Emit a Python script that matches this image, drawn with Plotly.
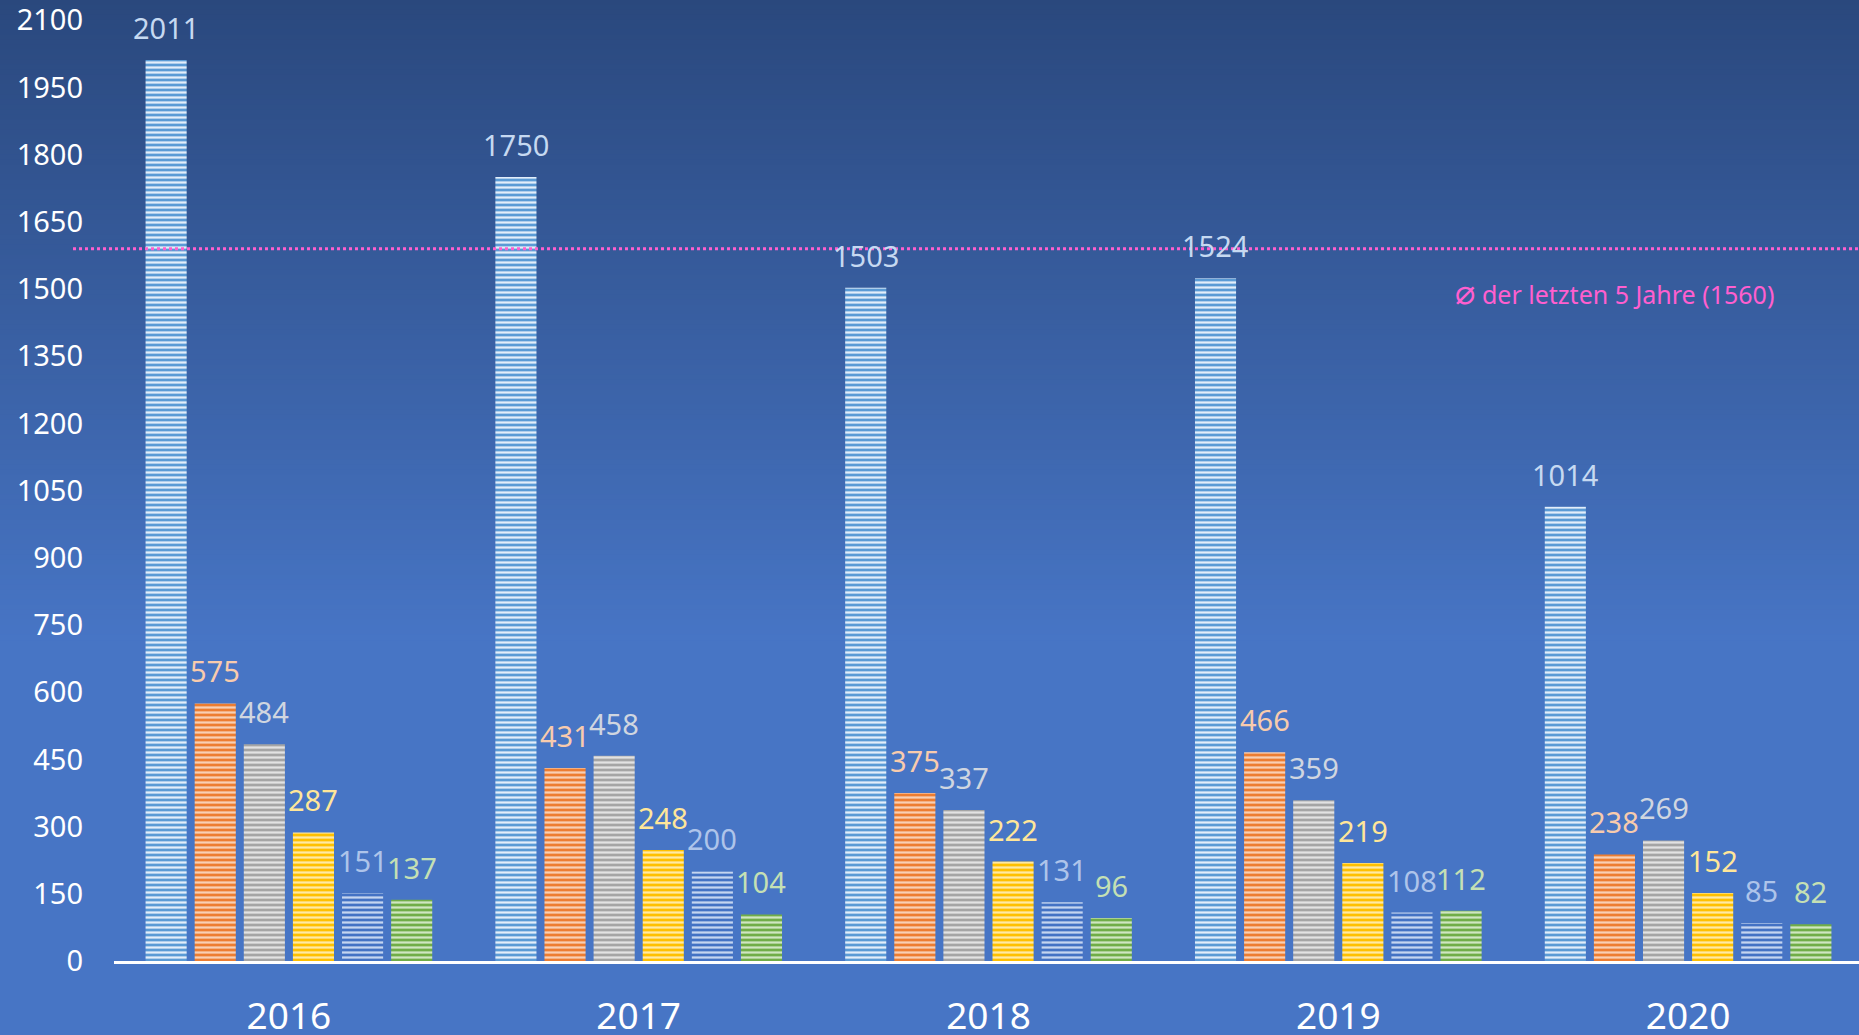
import plotly.graph_objects as go

# ---------------- data ----------------
years = ["2016", "2017", "2018", "2019", "2020"]
series_names = ["Reihe 1", "Reihe 2", "Reihe 3", "Reihe 4", "Reihe 5", "Reihe 6"]
values_1 = [2011, 1750, 1503, 1524, 1014]
values_2 = [575, 431, 375, 466, 238]
values_3 = [484, 458, 337, 359, 269]
values_4 = [287, 248, 222, 219, 152]
values_5 = [151, 200, 131, 108, 85]
values_6 = [137, 104, 96, 112, 82]
avg_line_value = 1590
avg_symbol = "⌀"
avg_label = "der letzten 5 Jahre (1560)"
y_ticks = list(range(0, 2101, 150))

series_values = [values_1, values_2, values_3, values_4, values_5, values_6]

# ---------------- style ----------------
bar_colors = ["#5b9bd5", "#ed7d31", "#a5a5a5", "#ffc000", "#4472c4", "#70ad47"]
stripe_colors = ["#e3eefa", "#f9cfb3", "#e2e2e2", "#ffe9a3", "#c5d5f0", "#cfe6c0"]
label_colors = ["#c6d9f1", "#f8cbad", "#d0d6e0", "#ffe699", "#aec4ea", "#c5e0b4"]
FONT = "Noto Sans, DejaVu Sans, sans-serif"

W, H = 1863, 1035          # a few px wider than the window: right edge is clipped as in the reference
ML, MR, MT, MB = 114, 0, 20, 74
PW, PH = W - ML - MR, H - MT - MB
BARGAP = 0.1576

fig = go.Figure()

for i, (name, vals) in enumerate(zip(series_names, series_values)):
    fig.add_trace(go.Bar(
        x=years, y=vals, name=name,
        marker=dict(
            color=bar_colors[i],
            line=dict(width=0),
            pattern=dict(shape="-", fgcolor=stripe_colors[i], bgcolor=bar_colors[i],
                         size=5, solidity=0.45, fillmode="replace"),
        ),
        hoverinfo="x+y",
    ))

# value labels (x given as category index)
slot = PW / len(years) * (1 - BARGAP) / len(series_values)
annotations = []
for i, vals in enumerate(series_values):
    for j, v in enumerate(vals):
        annotations.append(dict(
            x=j, y=v, xref="x", yref="y", text=str(v), showarrow=False,
            xanchor="center", yanchor="bottom",
            xshift=(i - (len(series_values) - 1) / 2) * slot, yshift=11,
            font=dict(family=FONT, size=29, color=label_colors[i]),
        ))

# average label
annotations.append(dict(
    x=(1453 - ML) / PW, y=(MT + PH - 291) / PH, xref="paper", yref="paper",
    text='<span style="font-size:34px">%s</span> %s' % (avg_symbol, avg_label),
    showarrow=False, xanchor="left", yanchor="middle",
    font=dict(family=FONT, size=25, color="#ff5fcf"),
))

# background gradient (strips)
shapes = []
top = (0x2a, 0x48, 0x7d)
bot = (0x47, 0x75, 0xc5)
grad_end = 640
step = 5
for y0 in range(0, grad_end, step):
    t = (y0 + step / 2) / grad_end
    c = tuple(round(top[k] + (bot[k] - top[k]) * t) for k in range(3))
    shapes.append(dict(
        type="rect", xref="paper", yref="paper", layer="below",
        x0=-ML / PW - 0.01, x1=1.01,
        y0=(MT + PH - (y0 + step + 0.5)) / PH, y1=(MT + PH - y0 + 0.5) / PH,
        fillcolor="rgb(%d,%d,%d)" % c, line=dict(width=0),
    ))

# average dotted line
shapes.append(dict(
    type="line", xref="paper", yref="y", x0=(73 - ML) / PW, x1=1,
    y0=avg_line_value, y1=avg_line_value,
    line=dict(color="#ff5fcf", width=3, dash="dot"), layer="above",
))

fig.update_layout(
    width=W, height=H,
    margin=dict(l=ML, r=MR, t=MT, b=MB, pad=0, autoexpand=False),
    paper_bgcolor="#4775c5", plot_bgcolor="rgba(0,0,0,0)",
    barmode="group", bargap=BARGAP, bargroupgap=0.163,
    showlegend=False,
    annotations=annotations, shapes=shapes,
    font=dict(family=FONT, color="white"),
    xaxis=dict(
        type="category", range=[-0.5, len(years) - 0.5], automargin=False,
        showline=True, linecolor="white", linewidth=3,
        showgrid=False, ticks="", ticklabelstandoff=21,
        tickfont=dict(family=FONT, size=37, color="white"),
        ticklabeloverflow="allow",
        fixedrange=True,
    ),
    yaxis=dict(
        range=[0, 2100.5], tickvals=y_ticks, ticktext=[str(v) for v in y_ticks],
        automargin=False,
        showgrid=False, zeroline=False, showline=False, ticks="",
        ticklabelstandoff=30, ticklabeloverflow="allow",
        tickfont=dict(family=FONT, size=29, color="white"),
        fixedrange=True,
    ),
)

fig.write_html("out.html", config={"displayModeBar": False},
               post_script="document.body.style.margin='0';document.body.style.overflow='hidden';")
